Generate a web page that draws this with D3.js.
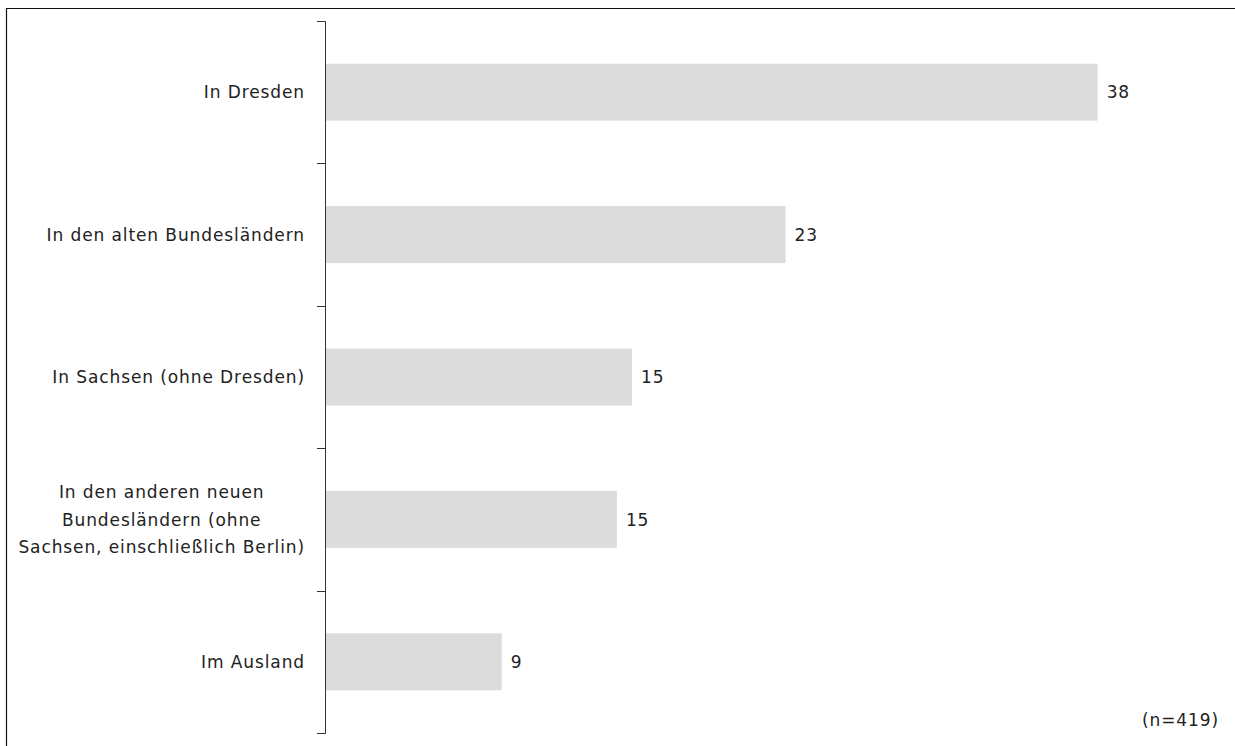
<!DOCTYPE html>
<html>
<head>
<meta charset="utf-8">
<script src="https://cdn.jsdelivr.net/npm/d3@7"></script>
<style>
  html, body { margin: 0; padding: 0; background: #fff; }
  svg { display: block; }
  text { font-family: "DejaVu Sans", sans-serif; font-size: 17px; letter-spacing: 0.9px; fill: #222; }
</style>
</head>
<body>
<svg id="chart" width="1235" height="746"></svg>
<script>
const categories = [
  ["In Dresden"],
  ["In den alten Bundesländern"],
  ["In Sachsen (ohne Dresden)"],
  ["In den anderen neuen", "Bundesländern (ohne", "Sachsen, einschließlich Berlin)"],
  ["Im Ausland"]
];
const values = [38.25, 22.8, 15.2, 14.45, 8.75];
const valueLabels = ["38", "23", "15", "15", "9"];
const note = "(n=419)";

const svg = d3.select("#chart");
const keys = categories.map((c, i) => "c" + i);

// frame (left and top edges)
svg.append("path")
  .attr("d", "M6.5,746 V8.5 H1235")
  .attr("fill", "none").attr("stroke", "#111").attr("stroke-width", 1.2);

const x = d3.scaleLinear().domain([0, 40]).range([325, 1133]);
const y = d3.scaleBand().domain(keys).range([21, 733]).paddingInner(0.6).paddingOuter(0.3);

// bars
svg.append("g").selectAll("rect").data(values).join("rect")
  .attr("x", x(0))
  .attr("y", (d, i) => y(keys[i]))
  .attr("width", d => x(d) - x(0))
  .attr("height", y.bandwidth())
  .attr("fill", "#dcdcdc");

// value labels
svg.append("g").selectAll("text").data(values).join("text")
  .attr("x", d => x(d) + 9)
  .attr("y", (d, i) => y(keys[i]) + y.bandwidth() / 2)
  .attr("dy", "0.36em")
  .text((d, i) => valueLabels[i]);

// axis line with end ticks and boundary ticks
const step = y.step();
const boundaries = d3.range(keys.length + 1).map(i => y.range()[0] + i * step);
const axisG = svg.append("g");
axisG.append("line")
  .attr("x1", x(0) + 0.5).attr("x2", x(0) + 0.5)
  .attr("y1", boundaries[0] + 0.5).attr("y2", boundaries[boundaries.length - 1] + 0.5)
  .attr("stroke", "#333").attr("stroke-width", 1);
axisG.selectAll("line.tick").data(boundaries).join("line")
  .attr("class", "tick")
  .attr("x1", x(0) - 8).attr("x2", x(0) + 0.5)
  .attr("y1", d => Math.round(d) + 0.5).attr("y2", d => Math.round(d) + 0.5)
  .attr("stroke", "#333").attr("stroke-width", 1);

// category labels (block right-aligned, lines centred within block)
const rightEdge = 305;
const lineH = 27.5;
categories.forEach((lines, i) => {
  const cy = y(keys[i]) + y.bandwidth() / 2;
  const t = svg.append("text").attr("text-anchor", "middle");
  const spans = lines.map((ln, j) => t.append("tspan")
    .attr("y", cy + (j - (lines.length - 1) / 2) * lineH)
    .attr("dy", "0.36em")
    .text(ln));
  const w = d3.max(spans, s => s.node().getComputedTextLength());
  spans.forEach(s => s.attr("x", rightEdge - w / 2));
});

// note
svg.append("text")
  .attr("x", 1219).attr("y", 720).attr("dy", "0.36em")
  .attr("text-anchor", "end")
  .text(note);
</script>
</body>
</html>
